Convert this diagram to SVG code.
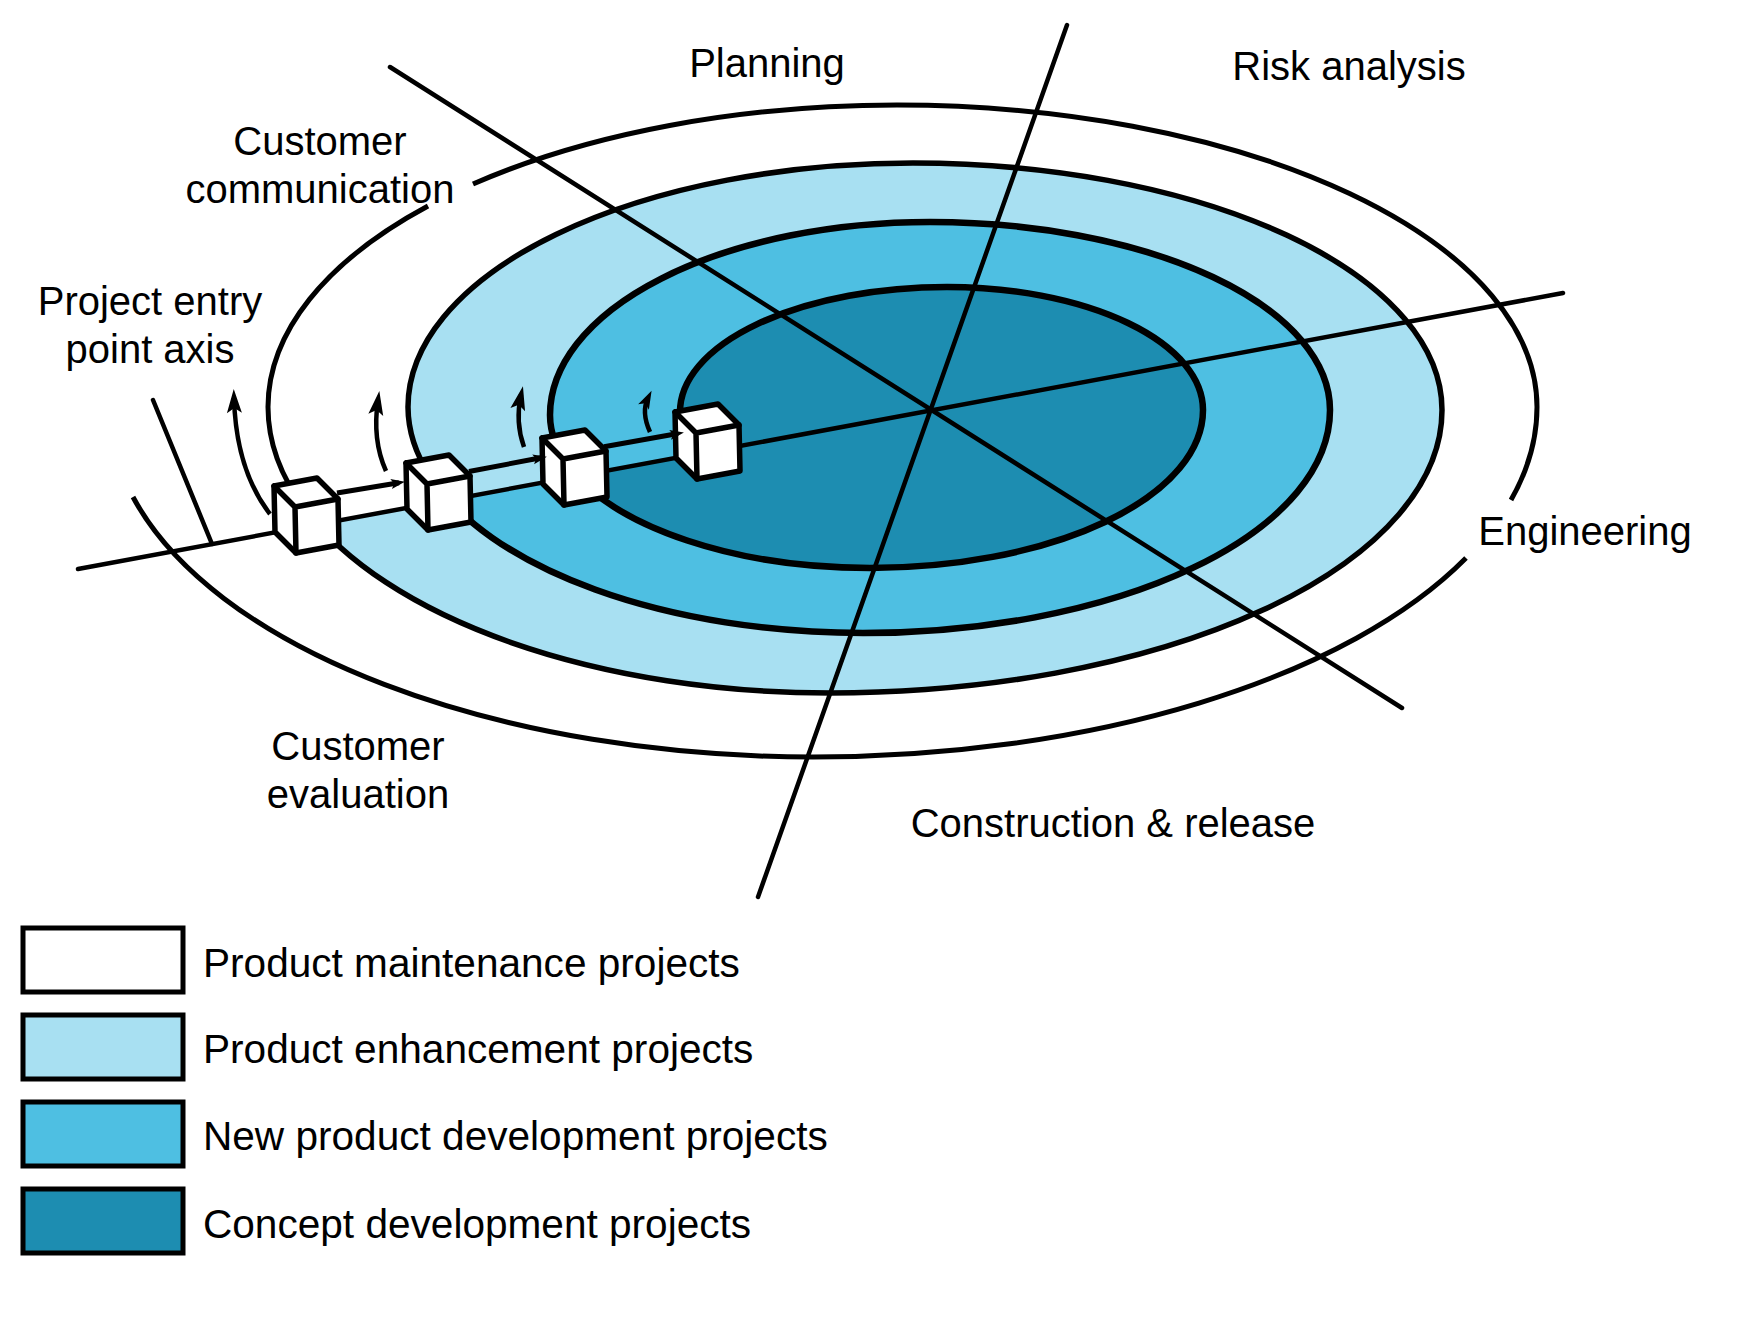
<svg xmlns="http://www.w3.org/2000/svg" width="1756" height="1328" viewBox="0 0 1756 1328">
<style>
.lbl{font-family:"Liberation Sans",Arial,Helvetica,sans-serif;font-size:40px;fill:#000}
.leg{font-size:40.6px}
.mid{text-anchor:middle}
.ax{stroke:#000;stroke-width:4.5;stroke-linecap:round;fill:none}
.sp{fill:none;stroke:#000}
.cube{fill:#fff;stroke:#000;stroke-width:5.5;stroke-linejoin:round}
.edge{fill:none;stroke:#000;stroke-width:5.5;stroke-linejoin:round;stroke-linecap:round}
.arr{fill:none;stroke:#000;stroke-width:4.5}
.tube{fill:none;stroke:#000;stroke-width:5}
.c0{fill:#ffffff}.c1{fill:#a8e0f2}.c2{fill:#4ebfe2}.c3{fill:#1d8db1}
.key{stroke:#000;stroke-width:5}
</style>
<defs>
<marker id="ahBig" markerUnits="userSpaceOnUse" orient="auto" refX="0" refY="0" overflow="visible">
<path d="M9,0 L-15,-7.5 L-10,0 L-15,7.5 Z" fill="#000"/>
</marker>
<marker id="ahSmall" markerUnits="userSpaceOnUse" orient="auto" refX="0" refY="0" overflow="visible">
<path d="M8,0 L-10,-6 L-6,0 L-10,6 Z" fill="#000"/>
</marker>
<marker id="ahTube" markerUnits="userSpaceOnUse" orient="auto" refX="0" refY="0" overflow="visible">
<path d="M6,0 L-8,-5 L-5,0 L-8,5 Z" fill="#000"/>
</marker>
<g id="cube">
<path class="cube" d="M-21,-21 L22,-29 L43,-8 L44,38 L1,46 L-20,25 Z"/>
<path class="edge" d="M-21,-21 L0,0 L43,-8 M0,0 L1,46"/>
</g>
</defs>
<rect width="1756" height="1328" fill="#fff"/>

<g id="spiral-fills">
<path class="c1" d="M305,509 A562,286 0 0 0 830,693 A612,283 0 0 0 1442,410 A529,247 0 0 0 913,163 A505,244 0 0 0 408,407 A455,226 0 0 0 430,476 L430,503.6 L305,526.8 Z"/>
<path class="c2" d="M430,476 A455,226 0 0 0 863,633 A467,223 0 0 0 1330,410 A400,188 0 0 0 930,222 A380,193 0 0 0 550,415 A320,153 0 0 0 570,468 L570,477.6 L430,503.6 Z"/>
<path class="c3" d="M570,468 A320,153 0 0 0 870,568 A333,158 0 0 0 1203,410 A256,123 0 0 0 947,287 A267,125 0 0 0 680,412 L686,456 L570,477.6 Z"/>
</g>

<g id="axes">
<line class="ax" x1="78" y1="569" x2="1563" y2="293"/>
<line class="ax" x1="1067" y1="25" x2="758" y2="897"/>
<line class="ax" x1="390" y1="67" x2="1402" y2="708"/>
<line class="ax" x1="153" y1="400" x2="212" y2="544"/>
</g>

<g id="spiral-lines">
<path class="sp" stroke-width="5" d="M133,497 A704,350 0 0 0 813,757 A724,350 0 0 0 1466,558"/>
<path class="sp" stroke-width="5" d="M1511,500 A724,350 0 0 0 1537,407 A640,302 0 0 0 897,105 A629,302 0 0 0 473,184"/>
<path class="sp" stroke-width="5" d="M428,206 A629,302 0 0 0 268,407 A562,286 0 0 0 305,509"/>
<path class="sp" stroke-width="5.5" d="M305,509 A562,286 0 0 0 830,693 A612,283 0 0 0 1442,410 A529,247 0 0 0 913,163 A505,244 0 0 0 408,407 A455,226 0 0 0 430,476"/>
<path class="sp" stroke-width="6.5" d="M430,476 A455,226 0 0 0 863,633 A467,223 0 0 0 1330,410 A400,188 0 0 0 930,222 A380,193 0 0 0 550,415 A320,153 0 0 0 570,468"/>
<path class="sp" stroke-width="6.5" d="M570,468 A320,153 0 0 0 870,568 A333,158 0 0 0 1203,410 A256,123 0 0 0 947,287 A267,125 0 0 0 680,412 L684,440"/>
</g>

<g id="cube1" transform="translate(295,507)"><use href="#cube"/></g>
<g id="cube2" transform="translate(427,484)"><use href="#cube"/></g>
<g id="cube3" transform="translate(563,459)"><use href="#cube"/></g>
<g id="cube4" transform="translate(696,433)"><use href="#cube"/></g>

<g id="connectors">
<path class="tube" d="M337,493 L399,482.7" marker-end="url(#ahTube)"/>
<path class="tube" d="M469,471.5 L541,457.8" marker-end="url(#ahTube)"/>
<path class="tube" d="M604,446.7 L678,433.5" marker-end="url(#ahTube)"/>
<path class="arr" d="M270,514 Q236,470 234,398" marker-end="url(#ahBig)"/>
<path class="arr" d="M386,471 Q372,440 378,400" marker-end="url(#ahBig)"/>
<path class="arr" d="M524,447 Q515,422 521,395" marker-end="url(#ahBig)"/>
<path class="arr" stroke-width="3.5" d="M650,432 Q641,412 648,398" marker-end="url(#ahSmall)"/>
</g>

<g id="labels">
<text class="lbl mid" x="767" y="77">Planning</text>
<text class="lbl mid" x="1349" y="80">Risk analysis</text>
<text class="lbl mid" x="320" y="155">Customer</text>
<text class="lbl mid" x="320" y="203">communication</text>
<text class="lbl mid" x="150" y="315">Project entry</text>
<text class="lbl mid" x="150" y="363">point axis</text>
<text class="lbl mid" x="358" y="760">Customer</text>
<text class="lbl mid" x="358" y="808">evaluation</text>
<text class="lbl mid" x="1113" y="837">Construction &amp; release</text>
<text class="lbl mid" x="1585" y="545">Engineering</text>
</g>

<g id="legend">
<g id="legend-maintenance"><rect class="key c0" x="23" y="928" width="160" height="64"/><text class="lbl leg" x="203" y="977">Product maintenance projects</text></g>
<g id="legend-enhancement"><rect class="key c1" x="23" y="1015" width="160" height="64"/><text class="lbl leg" x="203" y="1063">Product enhancement projects</text></g>
<g id="legend-newproduct"><rect class="key c2" x="23" y="1102" width="160" height="64"/><text class="lbl leg" x="203" y="1150">New product development projects</text></g>
<g id="legend-concept"><rect class="key c3" x="23" y="1189" width="160" height="64"/><text class="lbl leg" x="203" y="1238">Concept development projects</text></g>
</g>
</svg>
